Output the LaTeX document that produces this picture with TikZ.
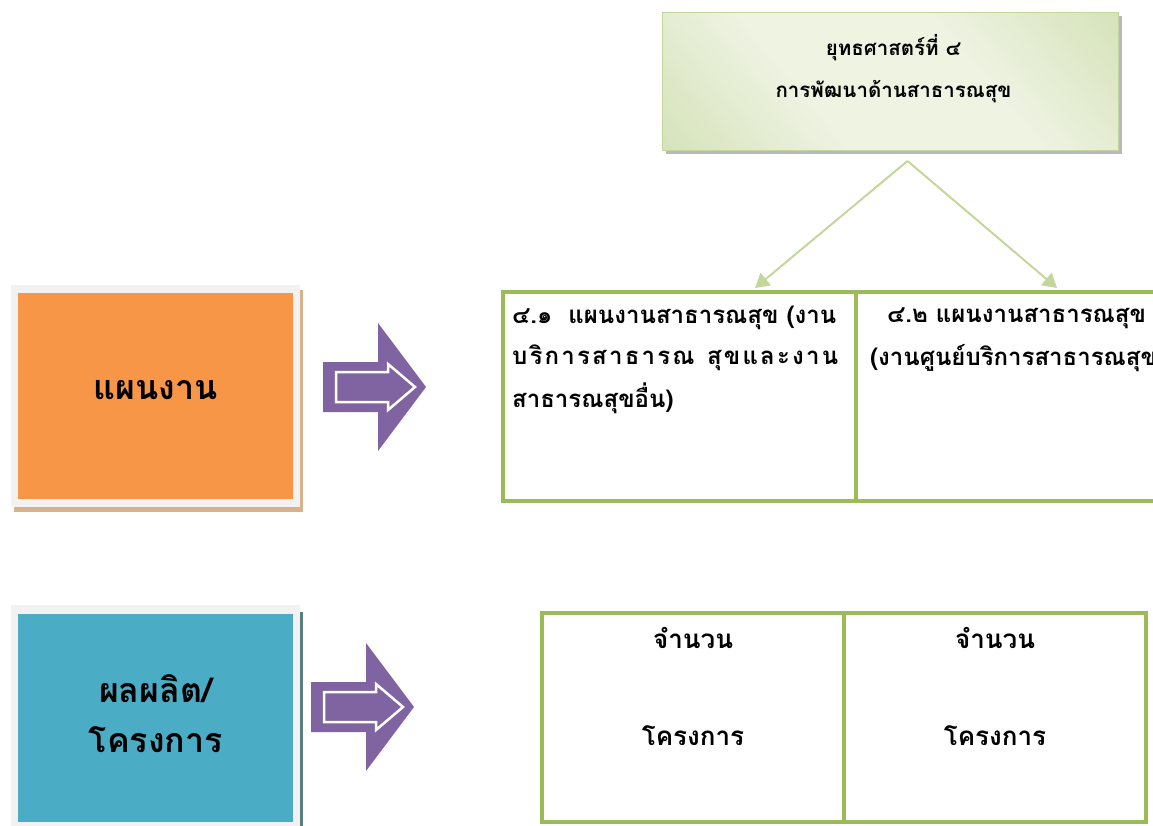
\documentclass[tikz,border=0pt]{standalone}
\usepackage{fontspec}
\usepackage{tikz}
\usetikzlibrary{arrows.meta,positioning}
\newfontfamily\thaifont[Script=Thai]{Loma}

\definecolor{planorange}{HTML}{F79646}
\definecolor{outblue}{HTML}{4BACC6}
\definecolor{arrowpurple}{HTML}{8064A2}
\definecolor{tablegreen}{HTML}{9BBB59}
\definecolor{linkgreen}{HTML}{C3D69B}
\definecolor{stratlight}{HTML}{EEF3E2}
\definecolor{stratdark}{HTML}{C6D8A0}
\definecolor{framegrey}{HTML}{F2F2F2}

\pgfdeclarehorizontalshading{stratshade}{100bp}{color(0bp)=(stratdark); color(38bp)=(stratlight); color(62bp)=(stratlight); color(100bp)=(stratdark)}

\tikzset{
  cellbox/.style={draw=tablegreen, line width=4pt, anchor=north west, inner sep=0pt},
  celltext/.style={font=\thaifont\bfseries\fontsize{24}{40}\selectfont, inner sep=0pt},
  counttext/.style={font=\thaifont\bfseries\fontsize{26}{40}\selectfont, inner sep=0pt},
  biglabel/.style={font=\thaifont\bfseries\fontsize{34}{50}\selectfont, align=center, inner sep=0pt},
  linkarrow/.style={draw=linkgreen, line width=2pt, -{Triangle[length=14pt,width=16pt]}}
}

\begin{document}
\begin{tikzpicture}[x=1pt,y=-1pt]
\useasboundingbox (0,0) rectangle (1153,826);
\clip (0,0) rectangle (1153,826);

% strategy box
\fill[gray!55] (666,16) rectangle (1122,154);
\node[draw=linkgreen, line width=1pt, shading=stratshade, shading angle=40,
      minimum width=456pt, minimum height=138pt, anchor=north west] (strat) at (662,12) {};
\node[font=\thaifont\bfseries\fontsize{20.5}{42}\selectfont, align=center, anchor=north]
      (stratlbl) at ([shift={(3,19)}]strat.north) {ยุทธศาสตร์ที่ ๔\\การพัฒนาด้านสาธารณสุข};

% left boxes
\fill[brown!60] (14,290) rectangle (303,512);
\fill[framegrey] (11,285) rectangle (300,507);
\node[fill=planorange, minimum width=275pt, minimum height=206pt, anchor=north west,
      inner sep=0pt] (plan) at (18,293) {};
\node[biglabel] at ([yshift=6pt]plan.center) {แผนงาน};

\fill[gray!70!teal] (14,612) rectangle (303,830);
\fill[framegrey] (11,605) rectangle (300,830);
\node[fill=outblue, minimum width=275pt, minimum height=208pt, anchor=north west,
      inner sep=0pt] (output) at (18,614) {};
\node[biglabel] at ([yshift=5pt]output.center) {ผลผลิต/\\โครงการ};

% block arrows
\foreach \ax/\ay in {323/387, 311/707}{
  \fill[arrowpurple] (\ax,\ay) ++(0,-25) -- ++(55,0) -- ++(0,-39) -- ++(48,64)
      -- ++(-48,64) -- ++(0,-39) -- ++(-55,0) -- cycle;
  \draw[white, line width=2.5pt, line join=miter] (\ax,\ay) ++(13,-15) -- ++(52,0) -- ++(0,-8)
      -- ++(27,23) -- ++(-27,23) -- ++(0,-8) -- ++(-52,0) -- cycle;
}

% plan table
\node[cellbox, minimum width=353pt, minimum height=209pt] (planA) at (501,290) {};
\node[cellbox, minimum width=450pt, minimum height=209pt] (planB) at (854,290) {};
\node[celltext, anchor=west] (planAone) at (512,318) {๔.๑\ \ แผนงานสาธารณสุข (งาน};
\node[celltext, anchor=west, text width=326pt] (planAtwo) at (512,358)
  {\makebox[326pt][s]{บ\hfill ริ\hfill ก\hfill า\hfill ร\hfill ส\hfill า\hfill ธ\hfill า\hfill ร\hfill ณ\hfill\ \hfill สุ\hfill ข\hfill แ\hfill ล\hfill ะ\hfill ง\hfill า\hfill น}};
\node[celltext, anchor=west] (planAthree) at (512,398) {สาธารณสุขอื่น)};
\node[celltext, anchor=west] (planBone) at (887,318) {๔.๒ แผนงานสาธารณสุข};
\node[celltext, anchor=west] (planBtwo) at (870,358) {(งานศูนย์บริการสาธารณสุข)};

% links
\coordinate (fork) at ([shift={(17,10)}]strat.south);
\coordinate (tipA) at (755,288);
\coordinate (tipB) at (1057,288);
\draw[linkarrow] (fork) -- (tipA);
\draw[linkarrow] (fork) -- (tipB);

% project table
\node[cellbox, minimum width=302pt, minimum height=209pt] (projA) at (540,611) {};
\node[cellbox, minimum width=302pt, minimum height=209pt] (projB) at (842,611) {};
\foreach \c in {projA,projB}{
  \node[counttext] at ([yshift=-27pt]\c.north) {จำนวน};
  \node[counttext] at ([yshift=-18pt]\c.center) {โครงการ};
}
\end{tikzpicture}
\end{document}
